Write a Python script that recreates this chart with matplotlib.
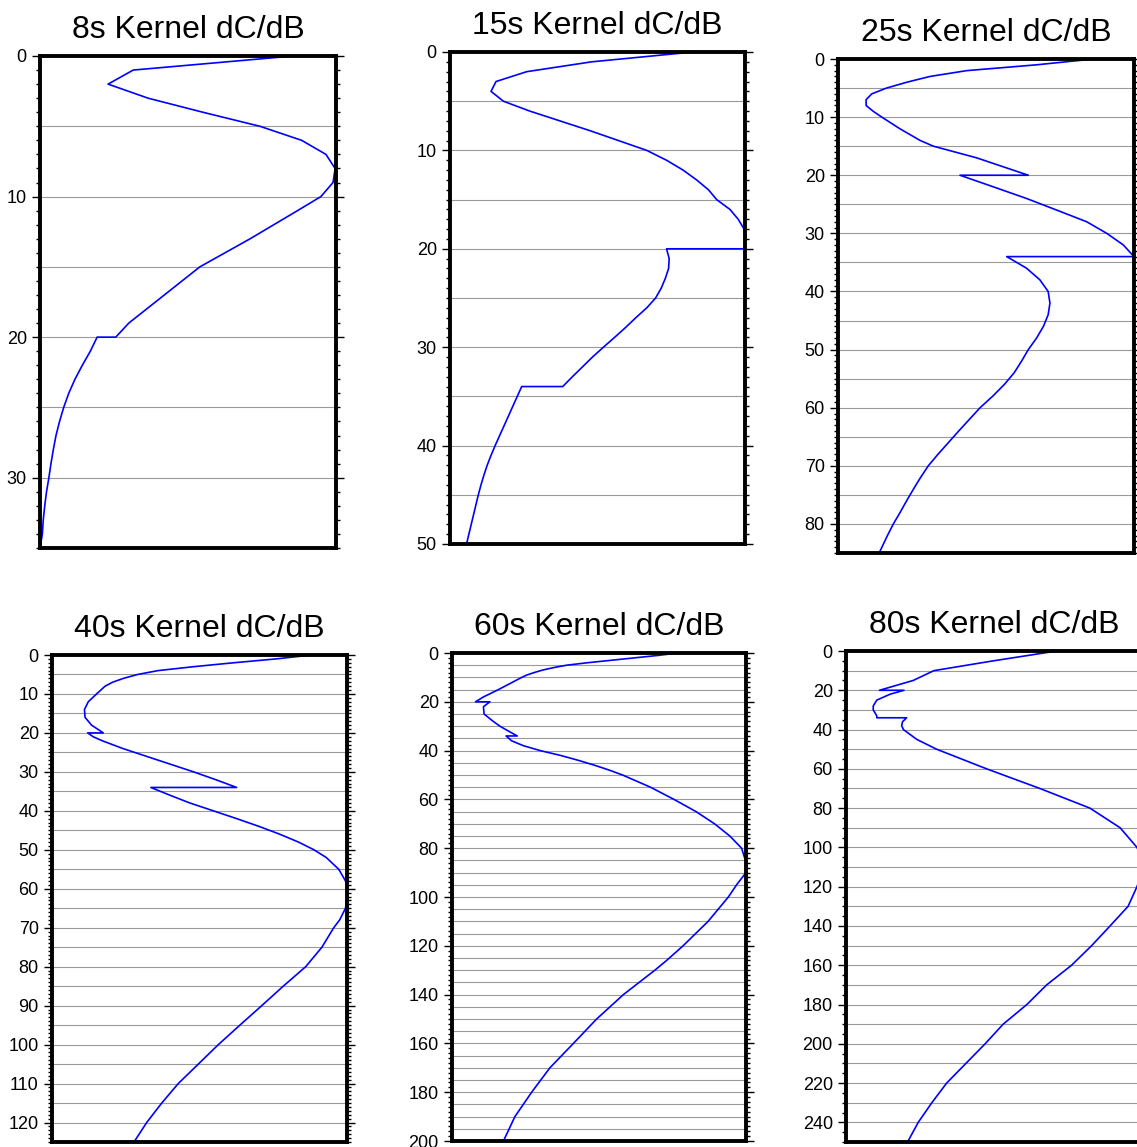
import matplotlib.pyplot as plt
from matplotlib.ticker import MultipleLocator, NullLocator

plt.rcParams['font.family'] = ['Liberation Sans', 'DejaVu Sans']

# depth (km) and normalised kernel amplitude for each period
depth_8s = [0, 1, 2, 3, 4, 5, 6, 7, 8, 9, 10, 11, 12, 13, 14, 15, 16, 17, 18, 19, 20, 20,
            21, 22, 23, 24, 25, 26, 27, 28, 29, 30, 31, 32, 33, 34, 35]
kern_8s = [0.855, 0.315, 0.23, 0.365, 0.55, 0.743, 0.884, 0.966, 0.997, 0.99, 0.949, 0.87,
           0.79, 0.71, 0.625, 0.54, 0.48, 0.42, 0.36, 0.30, 0.256, 0.193,
           0.17, 0.143, 0.118, 0.097, 0.08, 0.066, 0.054, 0.045, 0.037, 0.03, 0.022, 0.016,
           0.011, 0.008, 0.0]

depth_15s = [0, 1, 2, 3, 4, 5, 6, 8, 10, 11, 12, 13, 14, 15, 16, 17, 18, 19, 20, 20,
             21, 22, 23, 24, 25, 26, 27, 28, 29, 30, 31, 32, 33, 34, 34,
             35, 36, 37, 38, 39, 40, 41, 42, 43, 44, 45, 46, 47, 48, 49, 50]
kern_15s = [0.824, 0.48, 0.26, 0.156, 0.139, 0.181, 0.27, 0.475, 0.667, 0.734, 0.79, 0.836,
            0.876, 0.904, 0.949, 0.977, 0.997, 0.999, 1.0, 0.734,
            0.743, 0.741, 0.73, 0.716, 0.697, 0.667, 0.63, 0.595, 0.558, 0.52, 0.483, 0.449,
            0.415, 0.382, 0.243,
            0.228, 0.213, 0.198, 0.183, 0.168, 0.153, 0.139, 0.126, 0.115, 0.105, 0.096,
            0.088, 0.08, 0.072, 0.064, 0.056]

depth_25s = [0, 1, 2, 3, 4, 5, 6, 7, 8, 9, 10, 12, 14, 15, 17, 20, 20, 22, 24, 26, 28, 30,
             32, 34, 34, 36, 38, 40, 42, 44, 46, 48, 50, 52, 54, 56, 58, 60, 62, 64, 66, 68,
             70, 72, 74, 76, 78, 80, 82, 85]
kern_25s = [0.863, 0.671, 0.435, 0.311, 0.232, 0.164, 0.114, 0.095, 0.095, 0.119, 0.148,
            0.209, 0.277, 0.322, 0.468, 0.643, 0.412, 0.525, 0.637, 0.739, 0.84, 0.908,
            0.964, 1.0, 0.57, 0.637, 0.682, 0.71, 0.716, 0.71, 0.694, 0.671, 0.643, 0.62,
            0.595, 0.562, 0.523, 0.48, 0.444, 0.408, 0.373, 0.338, 0.305, 0.279, 0.255,
            0.232, 0.21, 0.187, 0.167, 0.139]

depth_40s = [0, 1, 2, 3, 4, 5, 6, 7, 8, 10, 12, 14, 16, 18, 20, 20, 21, 22, 24, 26, 28, 30,
             32, 34, 34, 36, 38, 40, 42, 44, 46, 48, 50, 52, 55, 58, 60, 62, 65, 68, 70, 75,
             80, 85, 90, 95, 100, 105, 110, 115, 120, 125]
kern_40s = [0.88, 0.76, 0.615, 0.48, 0.36, 0.29, 0.242, 0.205, 0.18, 0.151, 0.123, 0.11,
            0.112, 0.134, 0.174, 0.121, 0.14, 0.17, 0.24, 0.32, 0.40, 0.48, 0.555, 0.626,
            0.335, 0.40, 0.468, 0.547, 0.626, 0.702, 0.772, 0.835, 0.888, 0.93, 0.972, 0.995,
            1.0, 1.0, 0.995, 0.975, 0.955, 0.915, 0.86, 0.784, 0.711, 0.637, 0.564, 0.496,
            0.428, 0.372, 0.321, 0.278]

depth_60s = [0, 1, 2, 3, 4, 5, 6, 7, 8, 9, 10, 15, 18, 20, 20, 22, 25, 28, 30, 32, 34, 34,
             36, 38, 40, 42, 44, 46, 48, 50, 55, 60, 65, 70, 75, 80, 85, 90, 95, 100, 110,
             120, 126, 130, 140, 150, 160, 170, 180, 190, 200]
kern_60s = [0.77, 0.70, 0.62, 0.54, 0.46, 0.39, 0.345, 0.308, 0.28, 0.255, 0.237, 0.158,
            0.107, 0.08, 0.129, 0.107, 0.109, 0.14, 0.163, 0.192, 0.222, 0.184, 0.203, 0.243,
            0.30, 0.37, 0.43, 0.485, 0.535, 0.58, 0.675, 0.755, 0.83, 0.893, 0.945, 0.985,
            0.998, 1.0, 0.968, 0.94, 0.871, 0.786, 0.73, 0.69, 0.583, 0.492, 0.413, 0.333,
            0.271, 0.214, 0.175]

depth_80s = [0, 5, 10, 15, 20, 20, 22, 25, 28, 30, 33, 34, 34, 36, 38, 40, 45, 50, 60, 70,
             80, 90, 100, 105, 110, 115, 120, 130, 140, 150, 160, 170, 180, 190, 200, 210,
             220, 230, 240, 250]
kern_80s = [0.712, 0.498, 0.297, 0.227, 0.113, 0.196, 0.149, 0.104, 0.092, 0.092, 0.104,
            0.104, 0.205, 0.191, 0.188, 0.194, 0.239, 0.306, 0.475, 0.655, 0.824, 0.926,
            0.983, 0.997, 1.0, 0.995, 0.983, 0.953, 0.892, 0.83, 0.762, 0.678, 0.611, 0.531,
            0.47, 0.405, 0.34, 0.29, 0.244, 0.208]

periods = ['8s', '15s', '25s', '40s', '60s', '80s']
depths = [depth_8s, depth_15s, depth_25s, depth_40s, depth_60s, depth_80s]
kernels = [kern_8s, kern_15s, kern_25s, kern_40s, kern_60s, kern_80s]
max_depth = [35, 50, 85, 125, 200, 250]
label_step = [10, 10, 10, 10, 20, 20]
minor_step = [1, 1, 1, 1, 2, 5]
grid_step = [5, 5, 5, 5, 5, 10]

W, H = 1137, 1147
# frame boxes in pixels: left, right, top, bottom
boxes = [(40, 336, 56, 548), (450, 745, 52, 544), (838, 1134, 59, 553),
         (52, 347, 655, 1142), (452, 746, 653, 1141), (846, 1142, 651, 1142)]

fig = plt.figure(figsize=(W / 100, H / 100), dpi=100)

for i in range(6):
    l, r, t, b = boxes[i]
    ax = fig.add_axes([l / W, 1 - b / H, (r - l) / W, (b - t) / H])
    ax.set_xlim(0, 1)
    ax.set_ylim(max_depth[i], 0)

    g = grid_step[i]
    while g < max_depth[i]:
        ax.axhline(g, color='#9a9a9a', lw=0.8, zorder=1)
        g += grid_step[i]

    ax.plot(kernels[i], depths[i], color='#0000ff', lw=1.2, zorder=3)

    ax.xaxis.set_major_locator(NullLocator())
    ax.yaxis.set_major_locator(MultipleLocator(label_step[i]))
    ax.yaxis.set_minor_locator(MultipleLocator(minor_step[i]))
    ax.tick_params(axis='y', which='both', direction='out', left=True, right=True,
                   labelleft=True, labelright=False, labelsize=13, pad=3.5)
    ax.tick_params(axis='y', which='major', length=6, width=1.0)
    ax.tick_params(axis='y', which='minor', length=3, width=1.0)
    for sp in ax.spines.values():
        sp.set_linewidth(2.8)
        sp.set_zorder(4)

    ax.set_title(periods[i] + ' Kernel dC/dB', fontsize=23, pad=13)

fig.savefig('out.png', dpi=100)
